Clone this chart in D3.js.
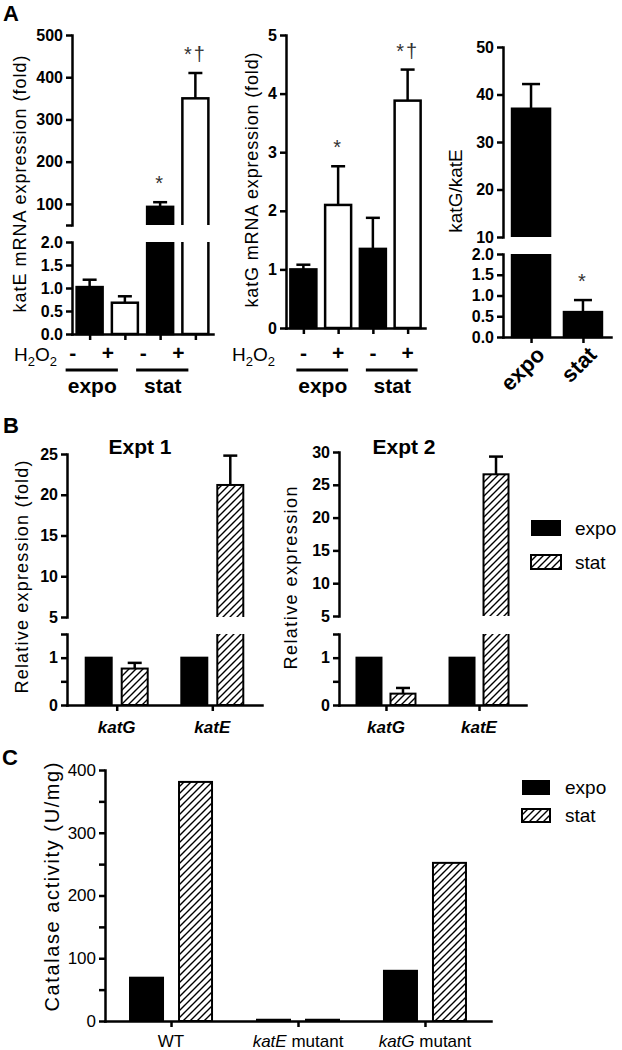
<!DOCTYPE html>
<html><head><meta charset="utf-8">
<script src="https://cdn.jsdelivr.net/npm/d3@7"></script>
<style>body{margin:0;background:#fff} svg text{font-family:"Liberation Sans",Arial,sans-serif;fill:#000}</style>
</head><body>
<script>
// ---------------- DATA ----------------
// Panel A
const conditionsA = ["expo-", "expo+", "stat-", "stat+"];
const h2o2Labels = ["-", "+", "-", "+"];
const phaseGroups = ["expo", "stat"];
const conditionFill = ["#000", "#fff", "#000", "#fff"];
const katEValues = [1.02, 0.68, 93, 350];
const katEErrors = [0.16, 0.14, 11, 60];
const katEMarks = ["", "", "*", "*\u2020"];
const katGValues = [1.0, 2.1, 1.35, 3.88];
const katGErrors = [0.08, 0.66, 0.53, 0.53];
const katGMarks = ["", "*", "", "*\u2020"];
const ratioCategories = ["expo", "stat"];
const ratioValues = [37, 0.6];
const ratioErrors = [5.2, 0.29];
const ratioMarks = ["", "*"];
const katELowTicks = [0, 0.5, 1, 1.5, 2];
const katEHighTicks = [50, 100, 200, 300, 400, 500];
const katEHighLabels = [100, 200, 300, 400, 500];
const katGTicks = [0, 1, 2, 3, 4, 5];
const ratioLowTicks = [0, 0.5, 1, 1.5, 2];
const ratioHighTicks = [10, 20, 30, 40, 50];
// Panel B
const genes = ["katG", "katE"];
const phases = ["expo", "stat"];
const expt1Expo = [1, 1];
const expt1Stat = [0.77, 21.2];
const expt1StatErr = [0.12, 3.6];
const expt2Expo = [1, 1];
const expt2Stat = [0.24, 26.6];
const expt2StatErr = [0.12, 2.7];
const bLowTicks = [0, 0.5, 1, 1.5];
const bLowLabels = [0, 1];
const b1HighTicks = [5, 10, 15, 20, 25];
const b2HighTicks = [5, 10, 15, 20, 25, 30];
// Panel C
const strains = ["WT", "katE mutant", "katG mutant"];
const catalaseExpo = [69, 2, 80];
const catalaseStat = [381, 2, 252];
const cTicks = [0, 50, 100, 150, 200, 250, 300, 350, 400];
const cLabels = [0, 100, 200, 300, 400];

// ---------------- DRAWING ----------------
const FONT = '"Liberation Sans",Arial,sans-serif';
const svg = d3.select("body").append("svg").attr("width", 622).attr("height", 1050);
const defs = svg.append("defs");
defs.append("pattern").attr("id", "hatch").attr("patternUnits", "userSpaceOnUse")
  .attr("width", 7).attr("height", 7)
  .append("path").attr("d", "M-1,1 l2,-2 M0,7 l7,-7 M6,8 l2,-2")
  .attr("stroke", "#000").attr("stroke-width", 1.4);

let clipId = 0;
function styleAxis(sel, size, weight) {
  sel.select(".domain").attr("stroke", "#000").attr("stroke-width", 2.5).attr("stroke-linecap", "square");
  sel.selectAll(".tick line").attr("stroke", "#000").attr("stroke-width", 2.5);
  sel.selectAll(".tick text").attr("font-size", size).attr("font-weight", weight)
    .attr("font-family", FONT).attr("fill", "#000");
}

// segs: bottom first. bars: {cx, w, v, err, fill, mark}
function brokenPanel(cfg) {
  const g = svg.append("g");
  const [x0, x1] = cfg.xRange;
  const n = cfg.segs.length;
  cfg.segs.forEach((s, i) => {
    const [yb, yt] = s.y.range();
    const [d0, d1] = s.y.domain();
    const isBottom = i === 0, isTop = i === n - 1;
    const top = isTop ? 0 : yt;
    const bottom = isBottom ? yb + 3 : yb;
    const id = "clip" + (clipId++);
    defs.append("clipPath").attr("id", id).append("rect")
      .attr("x", x0).attr("width", x1 - x0 + 10).attr("y", top).attr("height", bottom - top);
    const bg = g.append("g").attr("clip-path", `url(#${id})`);
    cfg.bars.forEach(b => {
      if (b.v <= d0) return;
      const yTop = b.v > d1 ? yt - 20 : s.y(b.v);
      const yBot = isBottom ? s.y(d0) : yb + 20;
      bg.append("rect").attr("x", b.cx - b.w / 2).attr("width", b.w)
        .attr("y", yTop).attr("height", yBot - yTop)
        .attr("fill", b.fill).attr("stroke", "#000").attr("stroke-width", cfg.barStroke || 2.5);
    });
    // error bars + marks
    cfg.bars.forEach(b => {
      if (!(b.v > d0 && b.v <= d1)) return;
      if (b.err > 0) {
        const ya = s.y(b.v), ye = s.y(b.v + b.err);
        g.append("line").attr("x1", b.cx).attr("x2", b.cx).attr("y1", ya).attr("y2", ye)
          .attr("stroke", "#000").attr("stroke-width", 2.5);
        g.append("line").attr("x1", b.cx - cfg.cap).attr("x2", b.cx + cfg.cap).attr("y1", ye).attr("y2", ye)
          .attr("stroke", "#000").attr("stroke-width", 2.5);
      }
      if (b.mark) {
        g.append("text").attr("x", b.cx).attr("y", s.y(b.v + b.err) - 12)
          .attr("text-anchor", "middle").attr("font-size", 20).attr("letter-spacing", 2)
          .style("fill", "#333").text(b.mark);
      }
    });
    const ax = d3.axisLeft(s.y).tickValues(s.ticks).tickSize(6).tickSizeOuter(0).tickPadding(3)
      .tickFormat(d => s.labels.includes(d) ? s.fmt(d) : "");
    g.append("g").attr("transform", `translate(${x0},0)`).call(ax)
      .call(styleAxis, cfg.tickSize, cfg.tickWeight);
  });
  // x axis
  const yAxis = cfg.segs[0].y(0);
  const xa = d3.axisBottom(cfg.xScale).tickSize(6).tickSizeOuter(0).tickFormat("");
  g.append("g").attr("transform", `translate(0,${yAxis})`).call(xa).call(styleAxis, 12, "normal");
  return g;
}

function yLabel(text, cx, cy, size, len) {
  const t = svg.append("text").attr("transform", `translate(${cx},${cy}) rotate(-90)`)
    .attr("text-anchor", "middle").attr("dominant-baseline", "central")
    .attr("font-size", size).text(text);
  if (len) t.attr("textLength", len).attr("lengthAdjust", "spacing");
  return t;
}
function letter(t, x, y) {
  svg.append("text").attr("x", x).attr("y", y).attr("font-size", 22).attr("font-weight", "bold").text(t);
}

// ---- Panel A1 : katE ----
letter("A", 3, 21);
const xA1 = d3.scalePoint().domain(conditionsA).range([72, 213]).padding(0.5);
const yA1lo = d3.scaleLinear().domain([0, 2]).range([334, 242]);
const yA1hi = d3.scaleLinear().domain([50, 500]).range([225, 35]);
brokenPanel({
  xRange: [72, 213], xScale: xA1, cap: 7, tickSize: 16, tickWeight: "bold",
  segs: [
    {y: yA1lo, ticks: katELowTicks, labels: katELowTicks, fmt: d3.format(".1f")},
    {y: yA1hi, ticks: katEHighTicks, labels: katEHighLabels, fmt: d3.format("d")}
  ],
  bars: conditionsA.map((c, i) => ({cx: xA1(c), w: 26, v: katEValues[i], err: katEErrors[i], fill: conditionFill[i], mark: katEMarks[i]}))
});
yLabel("katE mRNA expression (fold)", 20, 184, 18, 257);

// ---- Panel A2 : katG ----
const xA2 = d3.scalePoint().domain(conditionsA).range([286, 425]).padding(0.5);
const yA2 = d3.scaleLinear().domain([0, 5]).range([328, 35]);
brokenPanel({
  xRange: [286, 425], xScale: xA2, cap: 7, tickSize: 16, tickWeight: "bold",
  segs: [{y: yA2, ticks: katGTicks, labels: katGTicks, fmt: d3.format("d")}],
  bars: conditionsA.map((c, i) => ({cx: xA2(c), w: 26, v: katGValues[i], err: katGErrors[i], fill: conditionFill[i], mark: katGMarks[i]}))
});
yLabel("katG mRNA expression (fold)", 252, 180, 18, 255);

// H2O2 rows and group lines
function h2o2Row(xs, off, hx) {
  const t = svg.append("text").attr("x", hx).attr("y", 361).attr("font-size", 19);
  t.append("tspan").text("H");
  t.append("tspan").attr("font-size", 13).attr("dy", 5).text("2");
  t.append("tspan").attr("dy", -5).text("O");
  t.append("tspan").attr("font-size", 13).attr("dy", 5).text("2");
  const pos = conditionsA.map(c => xs(c) + off);
  conditionsA.forEach((c, i) => {
    svg.append("text").attr("x", pos[i]).attr("y", 360).attr("text-anchor", "middle")
      .attr("font-size", 21).attr("font-weight", "bold").text(h2o2Labels[i]);
  });
  phaseGroups.forEach((p, gi) => {
    const a = pos[gi * 2], b = pos[gi * 2 + 1];
    svg.append("line").attr("x1", a - 7).attr("x2", b + 10).attr("y1", 370).attr("y2", 370)
      .attr("stroke", "#000").attr("stroke-width", 3);
    svg.append("text").attr("x", (a + b) / 2 + 2).attr("y", 393).attr("text-anchor", "middle")
      .attr("font-size", 21).attr("font-weight", "bold").text(p);
  });
}
h2o2Row(xA1, -17, 14);
h2o2Row(xA2, 0, 232);

// ---- Panel A3 : katG/katE ----
const xA3 = d3.scalePoint().domain(ratioCategories).range([503, 611]).padding(0.54);
const yA3lo = d3.scaleLinear().domain([0, 2]).range([337, 254]);
const yA3hi = d3.scaleLinear().domain([10, 50]).range([237, 47]);
brokenPanel({
  xRange: [503, 611], xScale: xA3, cap: 9, tickSize: 16, tickWeight: "bold",
  segs: [
    {y: yA3lo, ticks: ratioLowTicks, labels: ratioLowTicks, fmt: d3.format(".1f")},
    {y: yA3hi, ticks: ratioHighTicks, labels: ratioHighTicks, fmt: d3.format("d")}
  ],
  bars: ratioCategories.map((c, i) => ({cx: xA3(c), w: 38, v: ratioValues[i], err: ratioErrors[i], fill: "#000", mark: ratioMarks[i]}))
});
yLabel("katG/katE", 455, 191, 19);
ratioCategories.forEach(c => {
  svg.append("text").attr("transform", `translate(${xA3(c) + 15},${356}) rotate(-45)`)
    .attr("text-anchor", "end").attr("font-size", 22).attr("font-weight", "bold").text(c);
});

// ---- Panel B ----
letter("B", 3, 433);
function panelB(cfg) {
  const xg = d3.scalePoint().domain(genes).range(cfg.xRange).padding(cfg.pad);
  const xs = d3.scalePoint().domain(phases).range([-cfg.off, cfg.off]);
  const bars = [];
  genes.forEach((gname, i) => {
    bars.push({cx: xg(gname) + xs("expo"), w: cfg.w, v: cfg.expo[i], err: 0, fill: "#000"});
    bars.push({cx: xg(gname) + xs("stat"), w: cfg.w, v: cfg.stat[i], err: cfg.err[i], fill: "url(#hatch)"});
  });
  brokenPanel({
    xRange: cfg.xRange, xScale: xg, cap: 7, tickSize: 16, tickWeight: "bold", barStroke: 2,
    segs: [
      {y: cfg.lo, ticks: bLowTicks, labels: bLowLabels, fmt: d3.format("d")},
      {y: cfg.hi, ticks: cfg.hiTicks, labels: cfg.hiTicks, fmt: d3.format("d")}
    ],
    bars
  });
  genes.forEach(gname => {
    svg.append("text").attr("x", xg(gname)).attr("y", 733).attr("text-anchor", "middle")
      .attr("font-size", 17).attr("font-weight", "bold").attr("font-style", "italic").text(gname);
  });
  svg.append("text").attr("x", cfg.titleX).attr("y", 454).attr("text-anchor", "middle")
    .attr("font-size", 21).attr("font-weight", "bold").text(cfg.title);
}
panelB({
  xRange: [67, 262], pad: 0.52, off: 18, w: 26, expo: expt1Expo, stat: expt1Stat, err: expt1StatErr,
  lo: d3.scaleLinear().domain([0, 1.5]).range([705, 634]),
  hi: d3.scaleLinear().domain([5, 25]).range([617, 454]), hiTicks: b1HighTicks,
  title: "Expt 1", titleX: 140
});
yLabel("Relative  expression (fold)", 22, 577, 18, 233);
panelB({
  xRange: [339, 526], pad: 0.505, off: 17, w: 25, expo: expt2Expo, stat: expt2Stat, err: expt2StatErr,
  lo: d3.scaleLinear().domain([0, 1.5]).range([705, 634]),
  hi: d3.scaleLinear().domain([5, 30]).range([616, 452]), hiTicks: b2HighTicks,
  title: "Expt 2", titleX: 404
});
yLabel("Relative  expression", 291, 578, 18, 183);

function legend(x, y1, y2, bw, bh, tx, size) {
  svg.append("rect").attr("x", x).attr("y", y1).attr("width", bw).attr("height", bh).attr("fill", "#000");
  svg.append("rect").attr("x", x).attr("y", y2).attr("width", bw).attr("height", bh - 2)
    .attr("fill", "url(#hatch)").attr("stroke", "#000").attr("stroke-width", 2);
  svg.append("text").attr("x", tx).attr("y", y1 + bh / 2).attr("dominant-baseline", "central")
    .attr("font-size", size).text(phases[0]);
  svg.append("text").attr("x", tx).attr("y", y2 + bh / 2 - 1).attr("dominant-baseline", "central")
    .attr("font-size", size).text(phases[1]);
}
legend(531, 520, 555, 30, 16, 575, 19);

// ---- Panel C ----
letter("C", 2, 765);
const xC = d3.scalePoint().domain(strains).range([105, 491]).padding(0.52);
const xCs = d3.scalePoint().domain(phases).range([-24.5, 24.5]);
const yC = d3.scaleLinear().domain([0, 400]).range([1021, 770]);
const cBars = [];
strains.forEach((s, i) => {
  cBars.push({cx: xC(s) + xCs("expo"), w: 33, v: catalaseExpo[i], err: 0, fill: "#000"});
  cBars.push({cx: xC(s) + xCs("stat"), w: 33, v: catalaseStat[i], err: 0, fill: "url(#hatch)"});
});
brokenPanel({
  xRange: [105, 491], xScale: xC, cap: 7, tickSize: 17, tickWeight: "normal", barStroke: 2,
  segs: [{y: yC, ticks: cTicks, labels: cLabels, fmt: d3.format("d")}],
  bars: cBars
});
strains.forEach(s => {
  const t = svg.append("text").attr("x", xC(s)).attr("y", 1047).attr("text-anchor", "middle").attr("font-size", 17);
  const parts = s.split(" ");
  if (parts.length > 1) {
    t.append("tspan").attr("font-style", "italic").text(parts[0]);
    t.append("tspan").text(" " + parts.slice(1).join(" "));
  } else t.text(s);
});
yLabel("Catalase activity (U/mg)", 52, 887, 20, 249);
legend(522, 780, 809, 28, 15, 565, 19);
</script>
</body></html>
